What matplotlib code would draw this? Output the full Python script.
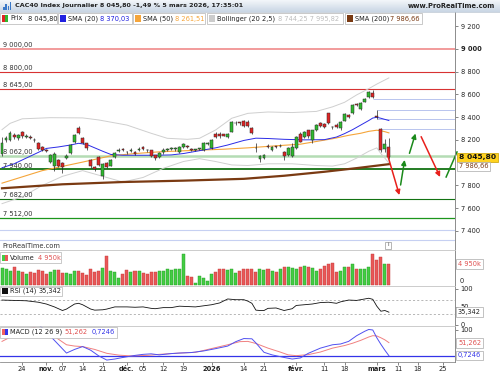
import matplotlib
matplotlib.use("Agg")
import matplotlib.pyplot as plt
import numpy as np
import pandas as pd
from matplotlib.patches import Rectangle
from matplotlib.lines import Line2D
from matplotlib.colors import LinearSegmentedColormap

W, H = 500, 375

TITLE = "CAC40 Index Journalier 8 045,80 -1,49 % 5 mars 2026, 17:35:01"

# sessions shown (Euronext closed 25-26 Dec and 1 Jan)
days = pd.bdate_range("2025-10-17", "2026-03-05")
days = days[~days.isin(pd.to_datetime(["2025-12-25", "2025-12-26", "2026-01-01"]))]

opens = [8080, 8195, 8200, 8240, 8220, 8265, 8228, 8225, 8200, 8170,
         8140, 8110, 8010, 7970, 8020, 8000, 8040, 8085, 8180, 8305,
         8215, 8170, 8024, 7965, 8050, 7880, 7995, 7975, 8050, 8100,
         8115, 8095, 8105, 8090, 8110, 8140, 8110, 8111, 8065, 8050,
         8090, 8110, 8120, 8118, 8095, 8140, 8145, 8112, 8110, 8118,
         8110, 8165, 8130, 8255, 8255, 8248, 8228, 8270, 8345, 8352,
         8366, 8360, 8305, 8130, 8030, 8045, 8150, 8115, 8140, 8142,
         8095, 8070, 8060, 8130, 8250, 8225, 8285, 8200, 8290, 8345,
         8340, 8436, 8315, 8335, 8300, 8370, 8420, 8436, 8512, 8471,
         8535, 8574, 8614, 8410, 8293, 8120, 8140]
highs = [8228, 8235, 8275, 8260, 8255, 8275, 8250, 8240, 8215, 8180,
         8150, 8120, 8080, 8090, 8030, 8010, 8075, 8160, 8250, 8322,
         8225, 8175, 8030, 7975, 8062, 8000, 8005, 8030, 8090, 8125,
         8125, 8105, 8125, 8100, 8140, 8150, 8120, 8115, 8070, 8095,
         8125, 8130, 8140, 8135, 8150, 8175, 8155, 8125, 8120, 8130,
         8185, 8180, 8205, 8265, 8265, 8255, 8260, 8362, 8365, 8360,
         8372, 8375, 8310, 8173, 8070, 8080, 8165, 8150, 8150, 8160,
         8100, 8135, 8170, 8235, 8265, 8275, 8290, 8290, 8340, 8355,
         8350, 8440, 8325, 8345, 8370, 8435, 8430, 8515, 8525, 8530,
         8570, 8630, 8640, 8462, 8300, 8205, 8220]
lows = [8060, 8185, 8190, 8210, 8200, 8215, 8215, 8205, 8185, 8110,
        8100, 8095, 7995, 7930, 7960, 7910, 8030, 8080, 8175, 8250,
        8165, 8115, 7950, 7930, 7975, 7860, 7955, 7970, 8045, 8090,
        8100, 8075, 8090, 8070, 8100, 8110, 8095, 8050, 8020, 8040,
        8080, 8100, 8110, 8105, 8085, 8130, 8125, 8100, 8105, 8110,
        8105, 8155, 8120, 8215, 8220, 8230, 8220, 8265, 8330, 8335,
        8315, 8310, 8250, 8095, 8005, 8035, 8125, 8105, 8125, 8135,
        8025, 8060, 8050, 8120, 8180, 8215, 8220, 8175, 8280, 8310,
        8300, 8340, 8295, 8300, 8290, 8365, 8395, 8430, 8495, 8460,
        8530, 8565, 8565, 8385, 8090, 8090, 8030]
closes = [8170, 8215, 8258, 8225, 8240, 8230, 8232, 8218, 8195, 8120,
          8115, 8105, 8068, 8080, 7970, 7960, 8060, 8155, 8240, 8258,
          8175, 8125, 7968, 7940, 7980, 7990, 7965, 8020, 8082, 8105,
          8110, 8090, 8115, 8080, 8115, 8120, 8108, 8060, 8040, 8085,
          8110, 8112, 8125, 8122, 8140, 8165, 8138, 8110, 8113, 8122,
          8175, 8168, 8195, 8225, 8230, 8238, 8255, 8357, 8350, 8350,
          8322, 8320, 8258, 8125, 8060, 8070, 8140, 8140, 8135, 8148,
          8060, 8130, 8140, 8225, 8185, 8265, 8230, 8285, 8330, 8320,
          8310, 8348, 8310, 8310, 8360, 8425, 8405, 8506, 8508, 8524,
          8562, 8623, 8578, 8400, 8111, 8164, 8045.80]
volumes = [3990, 3830, 3430, 4230, 3430, 3030, 2630, 3030, 2870, 3590,
           3430, 2630, 3030, 3590, 3590, 2870, 2870, 2710, 3430, 3350,
           2870, 2310, 3830, 3030, 3430, 4070, 6940, 3430, 3030, 1755,
           2710, 3590, 3030, 3270, 3270, 2870, 2710, 3030, 3030, 3430,
           3430, 3830, 3590, 3830, 3830, 7420, 2150, 1915, 560, 2150,
           1755, 960, 2710, 3030, 3830, 3830, 3670, 3830, 2870, 3270,
           3830, 3830, 3830, 3030, 3830, 3670, 3830, 3270, 3030, 3830,
           4230, 4230, 4070, 3830, 4230, 4630, 4230, 4070, 3430, 3830,
           4470, 5030, 5190, 3030, 3430, 4230, 4230, 5030, 3830, 3830,
           3830, 4230, 7420, 5990, 6620, 5030, 4950]  # thousands

# indicators (session index, value)
sma20_i = [0, 3, 6, 9, 11, 14, 17, 19, 21, 23, 25, 27, 30, 34, 38, 42, 45, 49, 53, 56,
           60, 63, 66, 70, 75, 80, 83, 85, 87, 89, 91, 92, 93, 94, 95, 96]
sma20_v = [7955, 7990, 8040, 8090, 8125, 8138, 8155, 8170, 8160, 8130, 8100, 8072, 8065,
           8065, 8065, 8068, 8080, 8105, 8130, 8155, 8195, 8215, 8212, 8205, 8200, 8202,
           8225, 8255, 8290, 8330, 8370, 8392, 8398, 8390, 8380, 8370.03]
sma50_i = [0, 10, 20, 27, 33, 39, 49, 55, 61, 68, 74, 82, 86, 89, 91, 93, 94, 95, 96]
sma50_v = [7820, 7930, 8005, 8060, 8080, 8095, 8110, 8118, 8130, 8148, 8162, 8210,
           8240, 8258, 8275, 8285, 8280, 8272, 8261.51]
sma200_i = [0, 15, 30, 45, 60, 70, 80, 88, 96]
sma200_v = [7775, 7810, 7830, 7842, 7858, 7885, 7920, 7952, 7986.66]
boll_up_i = [0, 2, 5, 12, 20, 24, 31, 37, 41, 46, 49, 53, 57, 61, 66, 72, 78, 82, 85,
             88, 91, 93, 96]
boll_up_v = [8290, 8345, 8385, 8395, 8393, 8375, 8330, 8258, 8214, 8205, 8214, 8287,
             8390, 8433, 8445, 8440, 8450, 8490, 8530, 8595, 8650, 8690, 8744.25]
boll_lo_i = [0, 5, 10, 15, 20, 25, 30, 35, 40, 45, 49, 53, 57, 61, 66, 72, 78, 82, 85,
             88, 91, 93, 94, 95, 96]
boll_lo_v = [7640, 7700, 7800, 7880, 7930, 7880, 7830, 7870, 7950, 8010, 8035, 8010,
             7980, 7975, 7990, 7990, 7975, 7970, 7990, 8040, 8100, 8130, 8080, 8040, 7995.82]

rsi_i = [0, 3, 6, 9, 11, 13, 15, 16, 18, 19, 20, 22, 23, 25, 26, 28, 31, 33, 35, 37,
         38, 40, 42, 44, 46, 48, 50, 52, 54, 56, 58, 60, 61, 62, 63, 64, 65, 66, 68, 70,
         72, 73, 75, 77, 79, 81, 83, 84, 86, 88, 90, 91, 92, 93, 94, 95, 96]
rsi_v = [69, 68, 67, 63, 58, 50, 40, 44, 58, 60, 56, 44, 41, 42, 44, 50, 50, 49, 50, 46,
         45, 48, 48, 52, 51, 50, 53, 56, 61, 72, 70, 70, 66, 60, 41, 40, 40, 46, 47, 40,
         45, 54, 56, 58, 62, 63, 60, 64, 69, 68, 72, 74, 71, 52, 38, 40, 35.342]

macd_i = [0, 5, 8, 10, 13, 16, 18, 20, 22, 24, 26, 28, 30, 33, 35, 37, 39, 42, 44, 47,
          50, 53, 56, 58, 60, 62, 63, 65, 67, 70, 72, 74, 76, 79, 82, 84, 86, 88, 90, 91,
          92, 93, 94, 95, 96]
macd_v = [150, 160, 135, 108, 60, 11, 25, 36, 22, 0, -16, -12, -6, 2, 6, 8, 4, 9, 11, 13,
          19, 28, 38, 55, 67, 66, 50, 14, 4, -6, -12, -8, 10, 30, 43, 46, 56, 78, 95, 102,
          100, 70, 45, 22, 0.7246]
sig_i = [0, 3, 5, 8, 10, 13, 16, 18, 20, 23, 26, 29, 32, 36, 39, 44, 48, 50, 53, 56,
         59, 61, 63, 66, 69, 71, 73, 76, 79, 82, 85, 87, 89, 91, 92, 93, 94, 95, 96]
sig_v = [56, 80, 100, 110, 100, 75, 43, 38, 36, 25, 10, 3, 0, 2, 6, 11, 14, 21, 32, 43,
         55, 56, 48, 30, 15, 4, 1, 5, 15, 30, 40, 49, 60, 73, 78, 77, 70, 62, 51.262]

# drawn levels
levels = [9000, 8800, 8645, 8062, 7940, 7682, 7512]
level_colors = ["#f29b9b", "#d83232", "#d83232", "#b4dcb4", "#127212", "#127212", "#1c961c"]
level_widths = [1.4, 0.8, 0.8, 1.8, 1.3, 0.8, 0.9]
guides = [7405, 7320]
rays = [8556, 8462, 8381, 8293]
ray_start = [92, 93, 93, 94]

# hand-drawn scenario arrows (session index, price)
arrow_from = [(95.8, 8052), (98.9, 7804), (101.1, 8082), (104.0, 8228)]
arrow_to = [(98.6, 7715), (99.9, 8024), (102.6, 8256), (108.7, 7874)]
arrow_cols = ["#e8201c", "#1b8a1b", "#1b8a1b", "#e8201c"]
trend_x = [110.2, 112.9]
trend_y = [7874, 8094]

tick_labels = ["24", "nov.", "07", "14", "21", "déc.", "05", "12", "19", "2026",
               "14", "21", "févr.", "11", "18", "mars", "11", "18", "25"]
tick_dates = ["2025-10-24", "2025-11-03", "2025-11-07", "2025-11-14", "2025-11-21",
              "2025-12-01", "2025-12-05", "2025-12-12", "2025-12-19", "2026-01-02",
              "2026-01-14", "2026-01-21", "2026-02-02", "2026-02-11", "2026-02-18",
              "2026-03-02"]
future_ticks = [98.3, 103.2, 109.4]   # 11, 18, 25 mars
bold_labels = {"nov.", "déc.", "2026", "févr.", "mars"}

GREEN, RED = "#2fb82f", "#e02424"
VGREEN, VRED = "#44cc44", "#e85858"
FS = 4.8
XMAX = 112.4


def fr(v, d=2):
    return f"{v:,.{d}f}".replace(",", " ").replace(".", ",")


fig = plt.figure(figsize=(W / 100, H / 100), dpi=100)
fig.patch.set_facecolor("white")


def px_axes(x0, y0, x1, y1):
    ax = fig.add_axes([x0 / W, 1 - y1 / H, (x1 - x0) / W, (y1 - y0) / H])
    ax.set_xlim(-0.5, XMAX)
    for s in ax.spines.values():
        s.set_visible(False)
    ax.set_facecolor("none")
    ax.tick_params(axis="x", bottom=False, labelbottom=False)
    ax.yaxis.tick_right()
    ax.tick_params(axis="y", direction="out", length=2.5, width=0.5, pad=1.5,
                   labelsize=FS, colors="#555555", labelcolor="#222222")
    return ax


def box(x0, y0, x1, y1, **kw):
    fig.add_artist(Rectangle((x0 / W, 1 - y1 / H), (x1 - x0) / W, (y1 - y0) / H,
                             transform=fig.transFigure, **kw))


def txt(x, y, s, **kw):
    kw.setdefault("fontsize", FS)
    kw.setdefault("va", "center")
    kw.setdefault("color", "#222222")
    return fig.text(x / W, 1 - y / H, s, **kw)


def fline(xs, ys, **kw):
    fig.add_artist(Line2D([x / W for x in xs], [1 - y / H for y in ys],
                          transform=fig.transFigure, **kw))


def swatch(x, yc, cols):
    n = len(cols)
    for k, c in enumerate(cols):
        box(x + k * 6 / n, yc - 3, x + (k + 1) * 6 / n, yc + 3, fc=c, ec="none")


def tag(x, y, s, color, weight="normal", fc="white", ec="#aaaaaa", size=FS):
    txt(x, y, s, color=color, fontweight=weight, fontsize=size,
        bbox=dict(boxstyle="square,pad=0.25", fc=fc, ec=ec, lw=0.5))


# title bar
ax_t = fig.add_axes([0, 1 - 12 / H, 1, 12 / H])
ax_t.imshow(np.linspace(0, 1, 24).reshape(-1, 1), aspect="auto",
            cmap=LinearSegmentedColormap.from_list("bar", ["#f3f6fa", "#c9d6e4"]))
ax_t.axis("off")
for k, hgt in enumerate([3, 6, 4, 8]):
    box(3 + k * 2.3, 10 - hgt, 4.5 + k * 2.3, 10, fc="#3a78c8", ec="none")
txt(15, 6, TITLE, fontweight="bold", fontsize=4.6)
txt(495, 6, "www.ProRealTime.com", fontweight="bold", fontsize=4.9, ha="right")

x = np.arange(len(days))
o, h, l, c = map(np.array, (opens, highs, lows, closes))
up = c >= o

# ---- price panel
ax_p = px_axes(0, 12, 455, 250)
ax_p.set_ylim(7233, 9323)
pticks = [7400, 7600, 7800, 8200, 8400, 8600, 8800, 9000, 9200]
ax_p.set_yticks(pticks)
ax_p.set_yticklabels([fr(v, 0) for v in pticks])
for t in ax_p.get_yticklabels():
    if t.get_text() == "9 000":
        t.set_fontweight("bold")

for lv, lc, lw in zip(levels, level_colors, level_widths):
    ax_p.axhline(lv, color=lc, lw=lw, zorder=1)
    ax_p.annotate(fr(lv), xy=(0, lv), xycoords=ax_p.get_yaxis_transform(),
                  xytext=(2, 0.6), textcoords="offset points", fontsize=FS,
                  color="#333333", va="bottom", zorder=6)
for g in guides:
    ax_p.axhline(g, color="#c6d0f2", lw=0.8, zorder=1)
for rv, rs in zip(rays, ray_start):
    ax_p.hlines(rv, rs, XMAX, color="#b8c4ee", lw=0.7, zorder=1)

ax_p.plot(boll_up_i, boll_up_v, color="#cfcfcf", lw=0.7, zorder=2)
ax_p.plot(boll_lo_i, boll_lo_v, color="#cfcfcf", lw=0.7, zorder=2)
ax_p.plot(sma200_i, sma200_v, color="#7a3a12", lw=1.6, zorder=2)
ax_p.plot(sma50_i, sma50_v, color="#f5a53a", lw=0.8, zorder=2)
ax_p.plot(sma20_i, sma20_v, color="#2b2be6", lw=0.7, zorder=2)

ax_p.vlines(x, l, h, color="#222222", lw=0.5, zorder=3)
ax_p.bar(x, np.maximum(np.abs(c - o), 7), bottom=np.minimum(o, c), width=0.7,
         color=np.where(up, GREEN, RED), edgecolor="#2a2a2a", linewidth=0.35, zorder=4)

for (x0, y0), (x1, y1), col in zip(arrow_from, arrow_to, arrow_cols):
    ax_p.annotate("", xy=(x1, y1), xytext=(x0, y0), zorder=5,
                  arrowprops=dict(arrowstyle="-|>", color=col, lw=1.1,
                                  mutation_scale=7, shrinkA=0, shrinkB=0))
ax_p.plot(trend_x, trend_y, color="#1b8a1b", lw=1.1, zorder=5, clip_on=False)

# ---- volume panel
ax_v = px_axes(0, 250, 455, 286)
ax_v.set_ylim(-240, 8370)
ax_v.set_yticks([])
ax_v.bar(x, volumes, width=0.75, color=np.where(up, VGREEN, VRED),
         edgecolor=np.where(up, "#1f9a1f", "#c43636"), linewidth=0.3)

# ---- RSI panel
ax_r = px_axes(0, 286, 455, 326)
ax_r.set_ylim(-3, 108)
ax_r.set_yticks([0, 50, 100])
for lv in (30, 70):
    ax_r.axhline(lv, color="#9a9a9a", lw=0.5, ls=(0, (3, 3)))
ax_r.plot(rsi_i, rsi_v, color="#111111", lw=0.6)

# ---- MACD panel
ax_m = px_axes(0, 326, 455, 362)
ax_m.set_ylim(-23.5, 115.4)
ax_m.set_yticks([100])
ax_m.axhline(0, color="#3434e8", lw=0.9)
ax_m.plot(sig_i, sig_v, color="#f08080", lw=0.7)
ax_m.plot(macd_i, macd_v, color="#5050f0", lw=0.7)

pos = [days.get_loc(pd.Timestamp(d)) for d in tick_dates] + future_ticks
ax_m.set_xticks(pos)
ax_m.set_xticklabels(tick_labels)
ax_m.tick_params(axis="x", bottom=True, labelbottom=True, direction="out", length=2,
                 width=0.5, pad=1.2, labelsize=FS, colors="#555555", labelcolor="#222222")
for t in ax_m.get_xticklabels():
    if t.get_text() in bold_labels:
        t.set_fontweight("bold")

# frame lines
fline([455, 455], [12, 362], color="#8c8c8c", lw=0.7)
for yy in (250, 286, 326):
    fline([0, 455], [yy, yy], color="#c4c4c4", lw=0.6)
fline([0, 455], [362, 362], color="#8c8c8c", lw=0.6)
fline([0, 500], [12, 12], color="#b8c4d0", lw=0.5)

# price legend row
legend_items = [
    (0, 57, [RED, GREEN], "Prix", 10, fr(closes[-1]), "#222222", 28),
    (58, 132, ["#2020e0"], "SMA (20)", 68, fr(sma20_v[-1]), "#2020e0", 100),
    (133, 205, ["#f5a53a"], "SMA (50)", 143, fr(sma50_v[-1]), "#f5a53a", 175),
    (207, 343, ["#cccccc"], "Bollinger (20 2,5)", 217,
     fr(boll_up_v[-1]) + " " + fr(boll_lo_v[-1]), "#bdbdbd", 278),
    (345, 422, ["#7a3a12"], "SMA (200)", 355, fr(sma200_v[-1]), "#7a3a12", 390),
]
for x0, x1, cols, name, nx, val, vc, vx in legend_items:
    box(x0, 13, x1, 24, fc="white", ec="#b4b4b4", lw=0.5)
    swatch(x0 + 2, 18.5, cols)
    txt(nx, 18.5, name)
    txt(vx, 18.5, val, color=vc)

# panel legends
box(0, 252, 61, 263, fc="white", ec="#b4b4b4", lw=0.5)
swatch(2, 257.5, [VGREEN, VRED])
txt(10, 257.5, "Volume")
txt(38, 257.5, fr(volumes[-1], 0) + "k", color="#e05050")
box(0, 286.5, 62, 296, fc="white", ec="#b4b4b4", lw=0.5)
swatch(2, 291, ["#111111"])
txt(10, 291, "RSI (14)")
txt(39, 291, fr(rsi_v[-1], 3))
box(0, 327, 117, 337.5, fc="white", ec="#b4b4b4", lw=0.5)
swatch(2, 332, ["#f06060", "#3434e8"])
txt(10, 332, "MACD (12 26 9)")
txt(64, 332, fr(sig_v[-1], 3), color="#e05050")
txt(92, 332, fr(macd_v[-1], 4), color="#3434e8")

# watermark and info icon
txt(2, 246, "ProRealTime.com", color="#333333")
box(385, 241.5, 391, 248.5, fc="white", ec="#999999", lw=0.5)
txt(388, 245, "i", ha="center", fontsize=4.2, color="#555555")

# last-value tags on the right
tag(459, 157.5, fr(closes[-1]), "#111111", weight="bold", fc="#ffd21f", ec="#c8a000", size=5.4)
tag(459, 166.5, fr(sma200_v[-1]), "#7a3a12")
tag(458, 264, fr(volumes[-1], 0) + "k", "#e05050")
txt(460, 281, "0")
tag(458, 312, fr(rsi_v[-1], 3), "#222222")
tag(458, 343, fr(sig_v[-1], 3), "#e05050")
tag(458, 355.5, fr(macd_v[-1], 4), "#3434e8")

fig.savefig("out.png", dpi=100)
